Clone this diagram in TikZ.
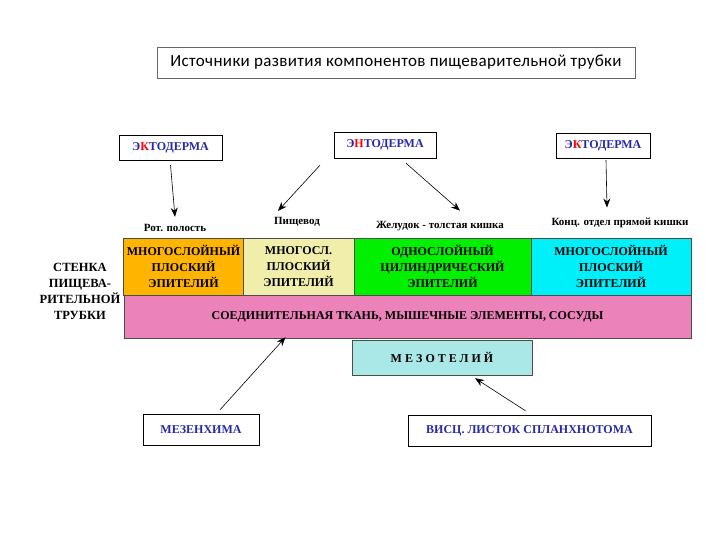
\documentclass[tikz,border=0pt]{standalone}
\usepackage{fontspec}
\setmainfont{Liberation Serif}
\newfontfamily\titlefont{Carlito}
\usetikzlibrary{positioning,arrows.meta}
\definecolor{ecto}{RGB}{40,40,170}
\definecolor{orangeband}{RGB}{255,180,0}
\definecolor{yellowband}{RGB}{240,238,170}
\definecolor{greenband}{RGB}{0,240,0}
\definecolor{cyanband}{RGB}{0,240,250}
\definecolor{pinkband}{RGB}{235,130,185}
\definecolor{mesoband}{RGB}{170,232,232}
\begin{document}
\begin{tikzpicture}[x=1pt,y=-1pt,
  box/.style={draw,inner sep=0pt,font=\bfseries\fontsize{12}{13}\selectfont},
  band/.style={draw=black!70,font=\bfseries\fontsize{12}{16}\selectfont,align=center},
  lbl/.style={font=\bfseries\fontsize{11}{12}\selectfont},
  arr/.style={-{Stealth[length=9pt,width=7pt]},semithick}]
  \useasboundingbox (0,0) rectangle (720,540);
  % title
  \node[draw=black!60,minimum width=478pt,minimum height=31pt,font=\titlefont\fontsize{17}{19}\selectfont\addfontfeature{LetterSpace=2}] (title) at (396,62.5) {Источники развития компонентов пищеварительной трубки};
  % germ layers
  \node[box,minimum width=103pt,minimum height=25pt] (ectoL) at (170.5,147.5) {\color{ecto}Э\textcolor{red}{К}ТОДЕРМА};
  \node[box,minimum width=102pt,minimum height=26pt] (endo) at (385,145) {\color{ecto}Э\textcolor{red}{Н}ТОДЕРМА};
  \node[box,minimum width=94pt,minimum height=25pt] (ectoR) at (603,145.5) {\color{ecto}Э\textcolor{red}{К}ТОДЕРМА};
  % section labels
  \node[lbl] (mouth) at (175,228) {Рот. полость};
  \node[lbl] (esoph) at (297,222) {Пищевод};
  \node[lbl] (stom) at (440,226) {Желудок - толстая кишка};
  \node[lbl] (rect) at (620,223) {Конц. отдел прямой кишки};
  % epithelium bands
  \node[band,fill=orangeband,minimum width=119pt,minimum height=57pt] (ep1) at (183.5,266.5) {МНОГОСЛОЙНЫЙ\\ПЛОСКИЙ\\ЭПИТЕЛИЙ};
  \node[band,fill=yellowband,minimum width=111pt,minimum height=57pt] (ep2) at (298.5,266.5) {МНОГОСЛ.\\ПЛОСКИЙ\\ЭПИТЕЛИЙ};
  \node[band,fill=greenband,minimum width=177pt,minimum height=57pt] (ep3) at (442.5,266.5) {ОДНОСЛОЙНЫЙ\\ЦИЛИНДРИЧЕСКИЙ\\ЭПИТЕЛИЙ};
  \node[band,fill=cyanband,minimum width=160pt,minimum height=57pt] (ep4) at (611,266.5) {МНОГОСЛОЙНЫЙ\\ПЛОСКИЙ\\ЭПИТЕЛИЙ};
  \node[band,fill=pinkband,minimum width=567pt,minimum height=43pt] (conn) at (407.5,316.5) {СОЕДИНИТЕЛЬНАЯ ТКАНЬ, МЫШЕЧНЫЕ ЭЛЕМЕНТЫ, СОСУДЫ};
  \node[band,fill=mesoband,minimum width=180pt,minimum height=35pt,font=\bfseries\fontsize{12}{13}\selectfont\addfontfeature{LetterSpace=25}] (meso) at (442,357.5) {МЕЗОТЕЛИЙ};
  \node[band,draw=none,font=\bfseries\fontsize{12.5}{16}\selectfont] (wall) at (80,291) {СТЕНКА\\ПИЩЕВА-\\РИТЕЛЬНОЙ\\ТРУБКИ};
  % mesodermal sources
  \node[box,minimum width=116pt,minimum height=31pt] (mesen) at (201,429.5) {\color{ecto}МЕЗЕНХИМА};
  \node[box,minimum width=243pt,minimum height=31pt] (visc) at (529.5,430.5) {\color{ecto}ВИСЦ. ЛИСТОК СПЛАНХНОТОМА};
  % arrows
  \draw[arr] ([yshift=-5pt]ectoL.south) -- ([yshift=4pt]mouth.north);
  \draw[arr] ([xshift=-65pt,yshift=-7pt]endo.south) -- ([xshift=-19pt,yshift=3pt]esoph.north);
  \draw[arr] ([xshift=21pt,yshift=-5pt]endo.south) -- ([xshift=20pt,yshift=7pt]stom.north);
  \draw[arr] ([xshift=3pt,yshift=-2pt]ectoR.south) -- ([xshift=-13pt,yshift=7pt]rect.north);
  \draw[arr] ([xshift=19pt,yshift=4pt]mesen.north) -- ([xshift=-122pt,yshift=1pt]conn.south);
  \draw[arr] ([xshift=-4pt,yshift=4pt]visc.north) -- ([xshift=33pt,yshift=-3pt]meso.south);
\end{tikzpicture}
\end{document}
